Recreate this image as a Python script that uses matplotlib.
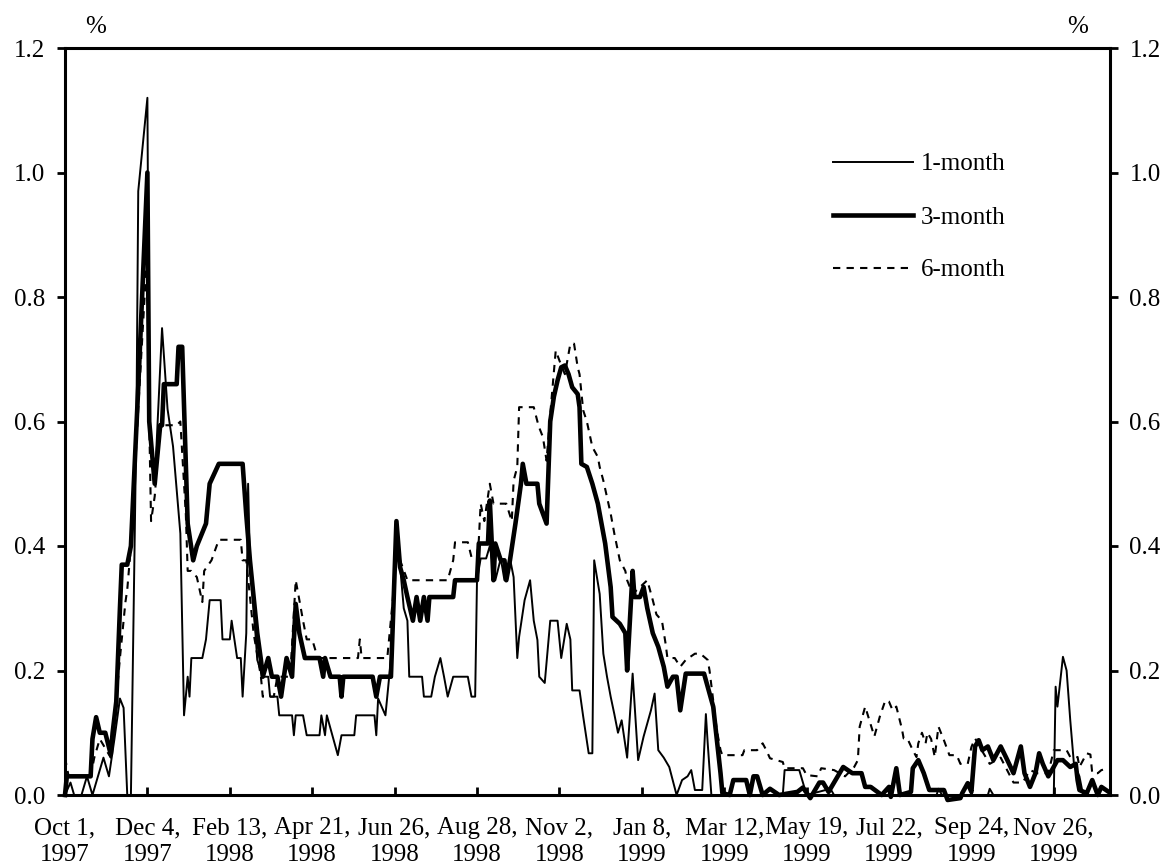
import matplotlib
matplotlib.use("Agg")
import matplotlib.pyplot as plt

plt.rcParams['font.family'] = ['Liberation Serif', 'DejaVu Serif']

# trading-day index (0 = Oct 1, 1997) and spread in %
M1_DAY = [0, 3, 5, 9, 12, 15, 18, 21, 24, 27, 30, 32, 34, 36, 39, 40, 42, 45, 46, 49,
          53, 56, 59, 63, 65, 67, 68, 69, 75, 77, 79, 85, 86, 90, 91, 94, 96, 97, 99, 100,
          101, 104, 105, 108, 111, 112, 116, 117, 124, 125, 126, 130, 132, 139, 140, 142, 143, 146, 149, 151,
          158, 159, 169, 170, 171, 175, 176, 179, 181, 185, 187, 188, 195, 196, 200, 202, 205, 207, 209, 212,
          220, 222, 224, 225, 227, 230, 232, 235, 238, 240, 243, 245, 247, 248, 251, 254, 256, 258, 259, 262,
          265, 269, 271, 274, 276, 277, 281, 283, 286, 288, 289, 292, 294, 296, 298, 300, 302, 304, 307, 310,
          313, 316, 320, 322, 324, 327, 330, 334, 337, 340, 342, 344, 348, 350, 351, 353, 392, 393, 401, 405,
          418, 420, 476, 477, 479, 504, 505, 507, 540, 541, 542, 545, 547, 549, 551, 554, 556, 570]
M1_VAL = [0.0, 0.02, 0.0, 0.0, 0.03, 0.0, 0.03, 0.06, 0.03, 0.09, 0.155, 0.14, 0.0, 0.0, 0.6, 0.97, 1.03, 1.12, 0.6, 0.5,
          0.75, 0.62, 0.56, 0.42, 0.128, 0.19, 0.158, 0.22, 0.22, 0.25, 0.313, 0.313, 0.25, 0.25, 0.28, 0.22, 0.22, 0.158, 0.26, 0.5,
          0.377, 0.26, 0.217, 0.19, 0.19, 0.158, 0.158, 0.128, 0.128, 0.096, 0.128, 0.128, 0.096, 0.096, 0.128, 0.096, 0.128, 0.096, 0.064, 0.096,
          0.096, 0.128, 0.128, 0.096, 0.155, 0.128, 0.158, 0.25, 0.436, 0.3, 0.28, 0.19, 0.19, 0.158, 0.158, 0.19, 0.22, 0.19, 0.158, 0.19,
          0.19, 0.158, 0.158, 0.345, 0.38, 0.38, 0.40, 0.345, 0.38, 0.345, 0.38, 0.35, 0.22, 0.254, 0.313, 0.345, 0.28, 0.249, 0.19, 0.18,
          0.28, 0.28, 0.22, 0.275, 0.25, 0.168, 0.168, 0.126, 0.067, 0.067, 0.377, 0.323, 0.227, 0.19, 0.158, 0.13, 0.1, 0.12, 0.06, 0.195,
          0.056, 0.094, 0.136, 0.163, 0.072, 0.06, 0.045, 0.0, 0.024, 0.03, 0.04, 0.008, 0.008, 0.13, 0.083, 0.0, 0.0, 0.04, 0.04, 0.0,
          0.01, 0.0, 0.0, 0.01, 0.0, 0.0, 0.01, 0.0, 0.0, 0.174, 0.142, 0.222, 0.2, 0.12, 0.05, 0.03, 0.0, 0.0]

M3_DAY = [0, 1, 14, 15, 17, 19, 22, 25, 26, 28, 30, 31, 34, 36, 40, 45, 46, 49, 52, 53,
          54, 61, 62, 64, 67, 70, 72, 77, 79, 84, 97, 99, 101, 105, 107, 108, 111, 113, 116, 118,
          121, 124, 126, 128, 131, 139, 141, 142, 145, 150, 151, 152, 168, 170, 172, 178, 181, 183, 185, 187,
          190, 192, 194, 196, 198, 199, 212, 213, 225, 226, 231, 232, 234, 235, 238, 240, 241, 243, 246, 249,
          250, 252, 258, 259, 263, 265, 267, 269, 271, 273, 275, 277, 280, 281, 282, 285, 288, 291, 292, 295,
          298, 299, 303, 306, 307, 310, 311, 314, 316, 318, 321, 324, 327, 329, 332, 334, 336, 339, 349, 351,
          354, 356, 358, 359, 363, 365, 372, 374, 376, 378, 381, 385, 390, 400, 403, 407, 409, 412, 414, 417,
          423, 425, 430, 435, 437, 440, 446, 450, 451, 454, 456, 462, 463, 466, 469, 472, 480, 482, 489, 490,
          493, 495, 497, 499, 501, 504, 507, 511, 514, 518, 522, 524, 527, 530, 532, 534, 537, 539, 542, 545,
          549, 552, 553, 554, 558, 561, 564, 566, 570]
M3_VAL = [0.0, 0.03, 0.03, 0.09, 0.125, 0.1, 0.1, 0.065, 0.1, 0.15, 0.3, 0.37, 0.37, 0.40, 0.655, 1.0, 0.6, 0.5, 0.594, 0.594,
          0.66, 0.66, 0.72, 0.72, 0.436, 0.377, 0.40, 0.436, 0.50, 0.532, 0.532, 0.45, 0.377, 0.26, 0.217, 0.19, 0.22, 0.19, 0.19, 0.158,
          0.22, 0.19, 0.307, 0.26, 0.22, 0.22, 0.19, 0.22, 0.19, 0.19, 0.158, 0.19, 0.19, 0.158, 0.19, 0.19, 0.44, 0.366, 0.345, 0.318,
          0.28, 0.318, 0.28, 0.318, 0.28, 0.318, 0.318, 0.345, 0.345, 0.404, 0.404, 0.473, 0.345, 0.404, 0.377, 0.377, 0.345, 0.377, 0.436, 0.5,
          0.532, 0.5, 0.5, 0.468, 0.436, 0.6, 0.64, 0.666, 0.687, 0.69, 0.676, 0.655, 0.644, 0.623, 0.532, 0.527, 0.5, 0.468, 0.452, 0.404,
          0.334, 0.286, 0.275, 0.26, 0.2, 0.36, 0.318, 0.318, 0.334, 0.3, 0.26, 0.238, 0.206, 0.174, 0.19, 0.19, 0.136, 0.195, 0.195, 0.174,
          0.142, 0.088, 0.035, 0.003, 0.0, 0.024, 0.024, 0.0, 0.03, 0.03, 0.0, 0.01, 0.0, 0.005, 0.012, -0.005, 0.005, 0.02, 0.02, 0.005,
          0.035, 0.045, 0.035, 0.035, 0.013, 0.013, 0.0, 0.013, -0.003, 0.043, 0.0, 0.005, 0.043, 0.056, 0.035, 0.008, 0.008, -0.008, -0.005, 0.003,
          0.019, 0.005, 0.078, 0.088, 0.072, 0.078, 0.056, 0.078, 0.06, 0.035, 0.078, 0.035, 0.013, 0.035, 0.067, 0.05, 0.03, 0.04, 0.056, 0.056,
          0.045, 0.05, 0.024, 0.008, 0.003, 0.024, 0.0, 0.013, 0.005]

M6_DAY = [0, 2, 14, 16, 19, 25, 27, 30, 33, 34, 36, 40, 45, 46, 47, 49, 52, 53, 61, 63,
          66, 67, 69, 72, 75, 76, 80, 84, 96, 97, 99, 103, 107, 108, 114, 116, 123, 126, 128, 130,
          132, 135, 138, 146, 160, 161, 162, 176, 179, 181, 183, 187, 209, 212, 213, 220, 222, 225, 226, 227,
          229, 232, 234, 241, 244, 245, 247, 248, 256, 258, 259, 261, 263, 265, 268, 270, 273, 276, 278, 280,
          281, 283, 285, 288, 291, 292, 294, 298, 300, 303, 306, 307, 310, 318, 321, 323, 326, 328, 329, 333,
          336, 339, 344, 347, 351, 352, 354, 356, 358, 359, 370, 371, 378, 381, 383, 385, 392, 393, 403, 405,
          411, 413, 420, 426, 431, 433, 434, 437, 441, 442, 445, 448, 450, 452, 454, 457, 458, 460, 463, 465,
          466, 468, 470, 471, 473, 475, 477, 480, 482, 483, 487, 489, 493, 495, 497, 501, 505, 511, 518, 523,
          527, 531, 537, 540, 547, 549, 553, 554, 558, 560, 561, 564, 566, 570]
M6_VAL = [0.06, 0.03, 0.03, 0.06, 0.09, 0.06, 0.12, 0.22, 0.31, 0.33, 0.40, 0.62, 0.88, 0.6, 0.44, 0.48, 0.594, 0.594, 0.594, 0.60,
          0.45, 0.36, 0.36, 0.35, 0.31, 0.36, 0.377, 0.41, 0.41, 0.377, 0.377, 0.26, 0.19, 0.158, 0.158, 0.19, 0.19, 0.345, 0.313, 0.28,
          0.25, 0.25, 0.22, 0.22, 0.22, 0.25, 0.22, 0.22, 0.313, 0.41, 0.377, 0.345, 0.345, 0.377, 0.406, 0.406, 0.382, 0.382, 0.41, 0.468,
          0.44, 0.5, 0.468, 0.468, 0.44, 0.505, 0.527, 0.623, 0.623, 0.6, 0.59, 0.575, 0.537, 0.612, 0.714, 0.698, 0.676, 0.725, 0.725, 0.687,
          0.676, 0.618, 0.6, 0.559, 0.543, 0.527, 0.505, 0.452, 0.42, 0.377, 0.36, 0.345, 0.323, 0.345, 0.313, 0.29, 0.28, 0.243, 0.22, 0.22,
          0.206, 0.217, 0.227, 0.227, 0.217, 0.2, 0.152, 0.104, 0.072, 0.064, 0.064, 0.072, 0.072, 0.083, 0.072, 0.059, 0.053, 0.043, 0.043, 0.032,
          0.03, 0.043, 0.04, 0.03, 0.045, 0.056, 0.11, 0.142, 0.104, 0.094, 0.126, 0.152, 0.15, 0.136, 0.142, 0.107, 0.091, 0.091, 0.072, 0.061,
          0.083, 0.1, 0.083, 0.1, 0.09, 0.061, 0.11, 0.088, 0.072, 0.064, 0.064, 0.05, 0.05, 0.077, 0.091, 0.07, 0.05, 0.06, 0.02, 0.02,
          0.04, 0.035, 0.035, 0.072, 0.072, 0.061, 0.061, 0.045, 0.067, 0.065, 0.035, 0.035, 0.04, 0.043]

TICK_LABELS = ["Oct 1,\n1997", "Dec 4,\n1997", "Feb 13,\n1998", "Apr 21,\n1998", "Jun 26,\n1998",
               "Aug 28,\n1998", "Nov 2,\n1998", "Jan 8,\n1999", "Mar 12,\n1999", "May 19,\n1999",
               "Jul 22,\n1999", "Sep 24,\n1999", "Nov 26,\n1999"]
TICK_STEP = 45

W, H = 1169, 865
fig = plt.figure(figsize=(W / 100, H / 100), dpi=100)
ax = fig.add_axes([65 / W, 1 - 795 / H, (1110 - 65) / W, (795 - 48) / H])

ax.plot(M1_DAY, M1_VAL, color='black', lw=1.4, label='1-month', clip_on=False)
ax.plot(M3_DAY, M3_VAL, color='black', lw=3.3, label='3-month', clip_on=False)
ax.plot(M6_DAY, M6_VAL, color='black', lw=1.5, ls=(0, (3.5, 3)), label='6-month', clip_on=False)

ax.set_xlim(0, 570.7)
ax.set_ylim(0, 1.2)
ax.set_xticks([i * TICK_STEP for i in range(len(TICK_LABELS))])
ax.set_xticklabels(TICK_LABELS, fontsize=18, linespacing=1.3)
ax.set_yticks([0.0, 0.2, 0.4, 0.6, 0.8, 1.0, 1.2])
ax.yaxis.set_major_formatter(matplotlib.ticker.FormatStrFormatter('%.1f'))

for s in ax.spines.values():
    s.set_linewidth(2.2)
ax.tick_params(axis='x', direction='in', length=6, width=2, pad=16, labelsize=18)
ax.tick_params(axis='y', direction='out', length=6, width=2, pad=8, labelsize=18,
               left=True, right=True, labelleft=True, labelright=True)

fig.text(96 / W, 1 - 27 / H, '%', fontsize=18, ha='center', va='center')
fig.text(1078 / W, 1 - 27 / H, '%', fontsize=18, ha='center', va='center')

ax.legend(loc='upper left', bbox_to_anchor=(833 / W, 1 - 153 / H), bbox_transform=fig.transFigure,
          frameon=False, fontsize=18, handlelength=3.2, handletextpad=0.3,
          labelspacing=1.22, borderpad=0, borderaxespad=0)

fig.savefig('out.png', dpi=100)
